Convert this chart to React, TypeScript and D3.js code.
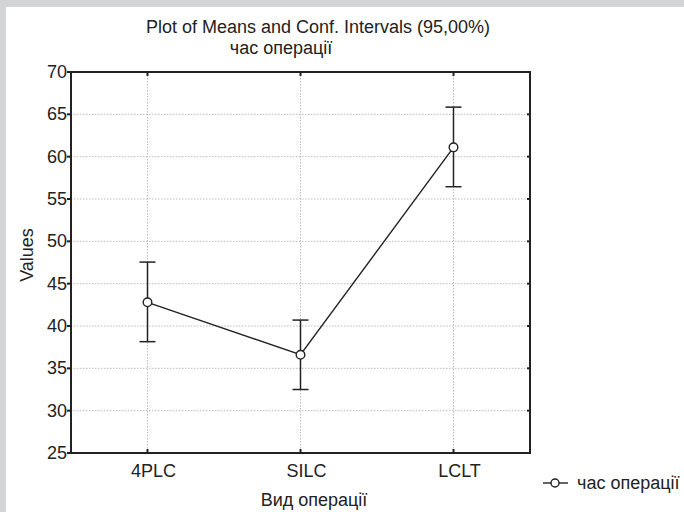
import React from "react";
import * as d3 from "d3";

const categories = ["4PLC", "SILC", "LCLT"];
const means = [42.8, 36.6, 61.1];
const upper = [47.55, 40.7, 65.85];
const lower = [38.15, 32.5, 56.45];
const yTicks = [25, 30, 35, 40, 45, 50, 55, 60, 65, 70];
const title = "Plot of Means and Conf. Intervals (95,00%)";
const subtitle = "час операції";
const xTitle = "Вид операції";
const yTitle = "Values";
const seriesName = "час операції";

const W = 684;
const H = 512;
const L = 71, R = 530, T = 72, B = 453;
const FONT = "'Liberation Sans', Arial, sans-serif";
const INK = "#222";

export default function App() {
  const x = d3.scalePoint<string>().domain(categories).range([L, R]).padding(0.5);
  const y = d3.scaleLinear().domain([25, 70]).range([B, T]);
  const line = d3
    .line<number>()
    .x((_, i) => x(categories[i]) as number)
    .y((d) => y(d));

  return (
    <div style={{ position: "fixed", left: 0, top: 0 }}>
      <svg width={W} height={H} style={{ display: "block" }} fontFamily={FONT}>
        <rect x={0} y={0} width={W} height={H} fill="#d3d4d6" />
        <rect x={6} y={7} width={W - 6} height={H - 7} fill="#fff" />

        {/* grid */}
        {yTicks.slice(1, -1).map((t) => (
          <line key={"gy" + t} x1={L} x2={R} y1={y(t)} y2={y(t)} stroke="#bdbdbd" strokeWidth={1} strokeDasharray="1.5,1.5" />
        ))}
        {categories.map((c) => (
          <line key={"gx" + c} x1={x(c)} x2={x(c)} y1={T} y2={B} stroke="#bdbdbd" strokeWidth={1} strokeDasharray="1.5,1.5" />
        ))}

        {/* frame */}
        <rect x={L} y={T} width={R - L} height={B - T} fill="none" stroke={INK} strokeWidth={2} />

        {/* ticks */}
        {yTicks.map((t) => (
          <g key={"ty" + t}>
            <line x1={L - 4} x2={L} y1={y(t)} y2={y(t)} stroke={INK} strokeWidth={2} />
            <line x1={R - 3} x2={R + 1} y1={y(t)} y2={y(t)} stroke={INK} strokeWidth={2} />
            <text x={67} y={y(t) + 6} textAnchor="end" fontSize={18} fill={INK}>
              {t}
            </text>
          </g>
        ))}
        {categories.map((c) => (
          <g key={"tx" + c}>
            <line x1={x(c)} x2={x(c)} y1={T} y2={T + 4} stroke={INK} strokeWidth={2} />
            <line x1={x(c)} x2={x(c)} y1={B - 4} y2={B} stroke={INK} strokeWidth={2} />
            <text x={(x(c) as number) + 6} y={477} textAnchor="middle" fontSize={18} fill={INK}>
              {c}
            </text>
          </g>
        ))}

        {/* error bars */}
        {categories.map((c, i) => {
          const cx = x(c) as number;
          return (
            <g key={"eb" + c} stroke={INK} strokeWidth={1.5}>
              <line x1={cx} x2={cx} y1={y(lower[i])} y2={y(upper[i])} />
              <line x1={cx - 8} x2={cx + 8} y1={y(lower[i])} y2={y(lower[i])} />
              <line x1={cx - 8} x2={cx + 8} y1={y(upper[i])} y2={y(upper[i])} />
            </g>
          );
        })}

        <path d={line(means) || ""} fill="none" stroke={INK} strokeWidth={1.4} />
        {categories.map((c, i) => (
          <circle key={"pt" + c} cx={x(c)} cy={y(means[i])} r={4.3} fill="#fff" stroke={INK} strokeWidth={1.4} />
        ))}

        {/* titles */}
        <text x={318} y={33} textAnchor="middle" fontSize={18} fill={INK}>
          {title}
        </text>
        <text x={281} y={54} textAnchor="middle" fontSize={18} fill={INK}>
          {subtitle}
        </text>
        <text x={314} y={506} textAnchor="middle" fontSize={18} fill={INK}>
          {xTitle}
        </text>
        <text transform="translate(33,255) rotate(-90)" textAnchor="middle" fontSize={18} fill={INK}>
          {yTitle}
        </text>

        {/* legend */}
        <line x1={543} x2={568} y1={483} y2={483} stroke={INK} strokeWidth={1.4} />
        <circle cx={555} cy={483} r={4} fill="#fff" stroke={INK} strokeWidth={1.4} />
        <text x={577} y={489} fontSize={18} fill={INK}>
          {seriesName}
        </text>
      </svg>
    </div>
  );
}
